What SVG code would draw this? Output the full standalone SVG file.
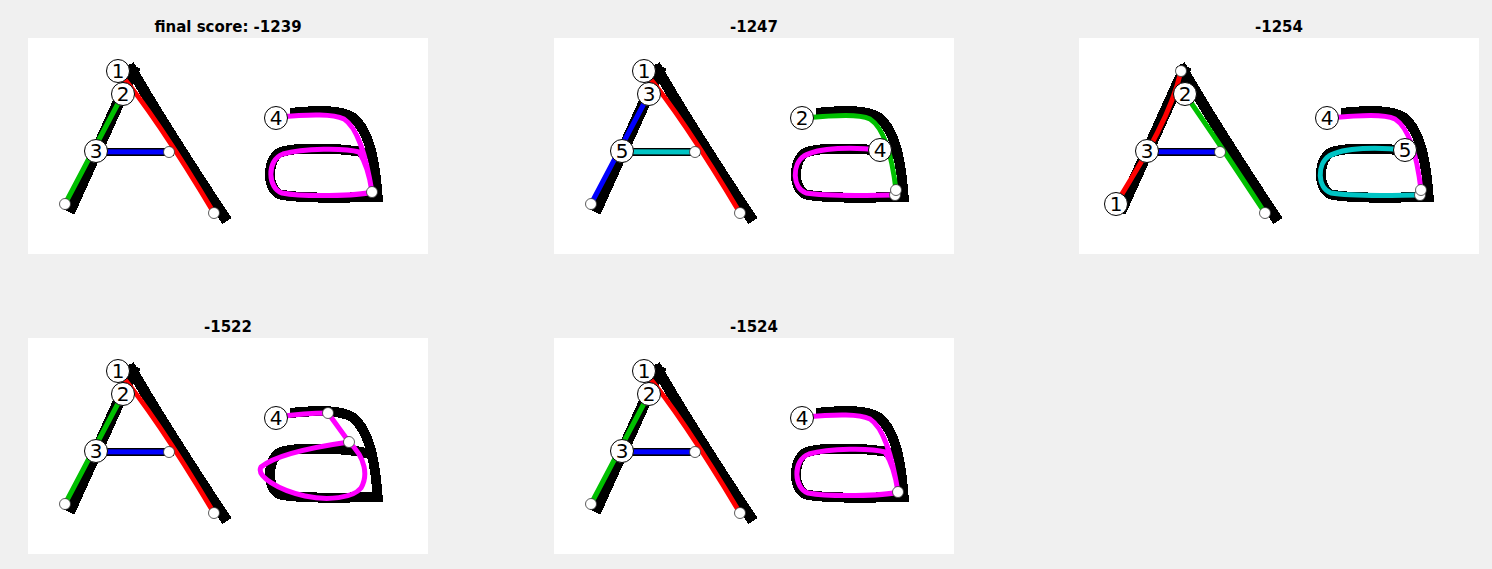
<svg xmlns="http://www.w3.org/2000/svg" xmlns:xlink="http://www.w3.org/1999/xlink" width="1492" height="569" viewBox="0 0 1492 569">
<style>
.title{font-family:"DejaVu Sans","Liberation Sans",sans-serif;font-size:15px;font-weight:bold;fill:#000;text-anchor:middle}
.panel{fill:#fff}
.gl{fill:none;stroke:#000;shape-rendering:crispEdges}
.s{fill:none;stroke-width:5;stroke-linecap:round;stroke-linejoin:round}
.r{stroke:#ff0000}.g{stroke:#00c000}.b{stroke:#0000ff}.c{stroke:#00c4c4}.m{stroke:#ff00ff}
.lbl circle{fill:#fff;stroke:#000;stroke-width:1}
.lbl text{font-family:"DejaVu Sans","Liberation Sans",sans-serif;font-size:20px;fill:#000;text-anchor:middle}
.end{fill:#fff;stroke:#333;stroke-width:0.8}
</style>
<defs>
<g id="glyph">
<path class="gl" stroke-width="12" d="M41,174 L107,28"/>
<path class="gl" stroke-width="11" d="M101,27 Q134,85 199,183"/>
<path class="gl" stroke-width="8" d="M74,113.7 L146,113.7"/>
<path class="gl" stroke-width="10" d="M262,75 C292,72 312,72 324,79 C339,90 347,115 350,164"/>
<path class="gl" stroke-width="10" d="M345,117 C320,109 268,109 253,114 C239,120 238,151 252,156.5 C275,161 330,160 352,158"/>
</g>
</defs>
<rect width="1492" height="569" fill="#f0f0f0"/>

<!-- Panel 1 -->
<g id="panel1">
<text class="title" x="228" y="32">final score: -1239</text>
<rect class="panel" x="28" y="38" width="400" height="216"/>
<g transform="translate(28,38)">
<use xlink:href="#glyph" href="#glyph"/>
<g id="p1-connectors">
<path class="s r" d="M90,33 Q128,78 186,175"/>
<path class="s g" d="M95,56 L37,166"/>
<path class="s b" d="M68,113.7 L141,114"/>
<path class="s m" d="M249,79 C285,76 305,76 316,81 C330,90 338,118 344,154 C330,158 275,159 254,155 C240,151 238,122 255,116 C275,110 318,110 331,114 C338,125 342,140 344,154"/>
</g>
<circle class="end" cx="37" cy="166" r="5.5"/>
<circle class="end" cx="141" cy="114" r="5.5"/>
<circle class="end" cx="186" cy="175" r="5.5"/>
<circle class="end" cx="344" cy="154" r="5.5"/>
<g id="p1-n1" class="lbl"><circle cx="90" cy="33" r="11.5"/><text x="90" y="40">1</text></g>
<g id="p1-n2" class="lbl"><circle cx="95" cy="56" r="11.5"/><text x="95" y="63">2</text></g>
<g id="p1-n3" class="lbl"><circle cx="68" cy="113" r="11.5"/><text x="68" y="120">3</text></g>
<g id="p1-n4" class="lbl"><circle cx="248" cy="80" r="11.5"/><text x="248" y="87">4</text></g>
</g>
</g>

<!-- Panel 2 -->
<g id="panel2">
<text class="title" x="754" y="32">-1247</text>
<rect class="panel" x="554" y="38" width="400" height="216"/>
<g transform="translate(554,38)">
<use xlink:href="#glyph" href="#glyph"/>
<g id="p2-connectors">
<path class="s r" d="M90,33 Q128,78 186,175"/>
<path class="s b" d="M95,56 L37,166"/>
<path class="s c" d="M68,113.7 L141,114"/>
<path class="s g" d="M248,80 C285,77 305,76 316,81 C330,90 338,118 342,152"/>
<path class="s m" d="M326,112 C300,109 265,109 250,118 C238,126 238,150 252,155 C275,159 320,157 341,157"/>
</g>
<circle class="end" cx="37" cy="166" r="5.5"/>
<circle class="end" cx="141" cy="114" r="5.5"/>
<circle class="end" cx="186" cy="175" r="5.5"/>
<circle class="end" cx="341" cy="157" r="5.5"/>
<circle class="end" cx="342" cy="152" r="5.5"/>
<g id="p2-n1" class="lbl"><circle cx="90" cy="33" r="11.5"/><text x="90" y="40">1</text></g>
<g id="p2-n3" class="lbl"><circle cx="95" cy="56" r="11.5"/><text x="95" y="63">3</text></g>
<g id="p2-n5" class="lbl"><circle cx="68" cy="113" r="11.5"/><text x="68" y="120">5</text></g>
<g id="p2-n2" class="lbl"><circle cx="248" cy="80" r="11.5"/><text x="248" y="87">2</text></g>
<g id="p2-n4" class="lbl"><circle cx="326" cy="112" r="11.5"/><text x="326" y="119">4</text></g>
</g>
</g>

<!-- Panel 3 -->
<g id="panel3">
<text class="title" x="1279" y="32">-1254</text>
<rect class="panel" x="1079" y="38" width="400" height="216"/>
<g transform="translate(1079,38)">
<use xlink:href="#glyph" href="#glyph"/>
<g id="p3-connectors">
<path class="s r" d="M37,166 C55,135 90,85 102,33"/>
<path class="s g" d="M106,56 Q140,105 186,175"/>
<path class="s b" d="M68,113.7 L141,114"/>
<path class="s m" d="M248,80 C285,77 305,76 316,81 C330,90 338,118 342,152"/>
<path class="s c" d="M326,112 C300,109 265,109 250,118 C238,126 238,150 252,155 C275,159 320,157 341,157"/>
</g>
<circle class="end" cx="102" cy="33" r="5.5"/>
<circle class="end" cx="141" cy="114" r="5.5"/>
<circle class="end" cx="186" cy="175" r="5.5"/>
<circle class="end" cx="341" cy="157" r="5.5"/>
<circle class="end" cx="342" cy="152" r="5.5"/>
<g id="p3-n1" class="lbl"><circle cx="37" cy="166" r="11.5"/><text x="37" y="173">1</text></g>
<g id="p3-n2" class="lbl"><circle cx="106" cy="56" r="11.5"/><text x="106" y="63">2</text></g>
<g id="p3-n3" class="lbl"><circle cx="68" cy="113" r="11.5"/><text x="68" y="120">3</text></g>
<g id="p3-n4" class="lbl"><circle cx="248" cy="80" r="11.5"/><text x="248" y="87">4</text></g>
<g id="p3-n5" class="lbl"><circle cx="326" cy="112" r="11.5"/><text x="326" y="119">5</text></g>
</g>
</g>

<!-- Panel 4 -->
<g id="panel4">
<text class="title" x="228" y="332">-1522</text>
<rect class="panel" x="28" y="338" width="400" height="216"/>
<g transform="translate(28,338)">
<use xlink:href="#glyph" href="#glyph"/>
<g id="p4-connectors">
<path class="s r" d="M90,33 Q128,78 186,175"/>
<path class="s g" d="M95,56 L37,166"/>
<path class="s b" d="M68,113.7 L141,114"/>
<path class="s m" d="M249,79 C270,76 288,75 300,75 L321,104"/>
<path class="s m" d="M321,104 C300,107 250,115 233,129 C228,138 250,152 277,158 C300,163 325,160 333,150 C340,138 338,120 321,104"/>
</g>
<circle class="end" cx="37" cy="166" r="5.5"/>
<circle class="end" cx="141" cy="114" r="5.5"/>
<circle class="end" cx="186" cy="175" r="5.5"/>
<circle class="end" cx="300" cy="75" r="5.5"/>
<circle class="end" cx="321" cy="104" r="5.5"/>
<g id="p4-n1" class="lbl"><circle cx="90" cy="33" r="11.5"/><text x="90" y="40">1</text></g>
<g id="p4-n2" class="lbl"><circle cx="95" cy="56" r="11.5"/><text x="95" y="63">2</text></g>
<g id="p4-n3" class="lbl"><circle cx="68" cy="113" r="11.5"/><text x="68" y="120">3</text></g>
<g id="p4-n4" class="lbl"><circle cx="248" cy="80" r="11.5"/><text x="248" y="87">4</text></g>
</g>
</g>

<!-- Panel 5 -->
<g id="panel5">
<text class="title" x="754" y="332">-1524</text>
<rect class="panel" x="554" y="338" width="400" height="216"/>
<g transform="translate(554,338)">
<use xlink:href="#glyph" href="#glyph"/>
<g id="p5-connectors">
<path class="s r" d="M90,33 Q128,78 186,175"/>
<path class="s g" d="M95,56 L37,166"/>
<path class="s b" d="M68,113.7 L141,114"/>
<path class="s m" d="M249,79 C285,76 305,76 316,81 C330,90 338,118 344,154 C330,158 275,159 254,155 C240,151 238,122 255,116 C275,110 318,110 331,114 C338,125 342,140 344,154"/>
</g>
<circle class="end" cx="37" cy="166" r="5.5"/>
<circle class="end" cx="141" cy="114" r="5.5"/>
<circle class="end" cx="186" cy="175" r="5.5"/>
<circle class="end" cx="344" cy="154" r="5.5"/>
<g id="p5-n1" class="lbl"><circle cx="90" cy="33" r="11.5"/><text x="90" y="40">1</text></g>
<g id="p5-n2" class="lbl"><circle cx="95" cy="56" r="11.5"/><text x="95" y="63">2</text></g>
<g id="p5-n3" class="lbl"><circle cx="68" cy="113" r="11.5"/><text x="68" y="120">3</text></g>
<g id="p5-n4" class="lbl"><circle cx="248" cy="80" r="11.5"/><text x="248" y="87">4</text></g>
</g>
</g>
</svg>
